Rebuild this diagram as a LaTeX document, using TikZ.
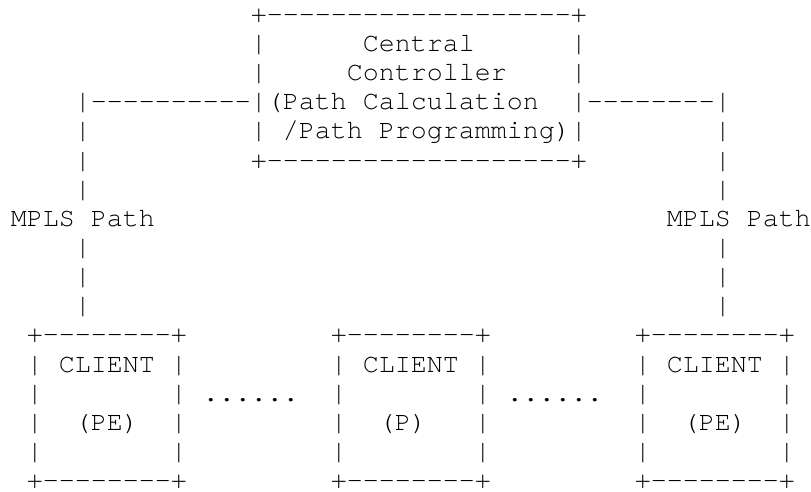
\documentclass[tikz,border=0pt]{standalone}
\usepackage{fontspec}
\setmonofont{TeX Gyre Cursor}
\tikzset{txt/.style={anchor=base west, inner sep=0pt, outer sep=0pt, text=black,
  font=\ttfamily\fontsize{26.67pt}{29pt}\selectfont}}
\begin{document}
\begin{tikzpicture}
\fill[white] (0pt,0pt) rectangle (811pt,-492pt);
\useasboundingbox (0pt,0pt) rectangle (811pt,-492pt);
\begin{scope}[shift={(10.8pt,-22.3pt)}, x=16pt, y=-29.15pt]
% central controller
\node[txt] (c0) at (15,0) {+-------------------+};
\node[txt] (c1l) at (15,1) {|};
\node[txt] (c1t) at (22,1) {Central};
\node[txt] (c1r) at (35,1) {|};
\node[txt] (c2l) at (15,2) {|};
\node[txt] (c2t) at (21,2) {Controller};
\node[txt] (c2r) at (35,2) {|};
\node[txt] (c3a) at (4,3) {|----------|(Path Calculation};
\node[txt] (c3b) at (35,3) {|--------|};
\node[txt] (c4a) at (4,4) {|};
\node[txt] (c4b) at (15,4) {| /Path Programming)|};
\node[txt] (c4c) at (44,4) {|};
\node[txt] (c5a) at (4,5) {|};
\node[txt] (c5b) at (15,5) {+-------------------+};
\node[txt] (c5c) at (44,5) {|};
\node[txt] (c6a) at (4,6) {|};
\node[txt] (c6b) at (44,6) {|};
\node[txt] (m1) at (0,7) {MPLS Path};
\node[txt] (m2) at (41,7) {MPLS Path};
\foreach \r in {8,9,10}{
  \node[txt] (l\r) at (4,\r) {|};
  \node[txt] (r\r) at (44,\r) {|};
}
% client boxes
\foreach \c/\n in {1/a,20/b,39/c}{
  \node[txt] (t\n) at (\c,11) {+--------+};
  \node[txt] (n\n) at (\c,12) {| CLIENT |};
  \node[txt] (p\n) at (\c,13) {|};
  \node[txt] (q\n) at (\c+9,13) {|};
  \node[txt] (s\n) at (\c,14) {|};
  \node[txt] (u\n) at (\c+9,14) {|};
  \node[txt] (v\n) at (\c,15) {|};
  \node[txt] (w\n) at (\c+9,15) {|};
  \node[txt] (b\n) at (\c,16) {+--------+};
}
\node[txt] (d1) at (12,13) {......};
\node[txt] (d2) at (31,13) {......};
\node[txt] (pe1) at (4,14) {(PE)};
\node[txt] (pp) at (23,14) {(P)};
\node[txt] (pe2) at (42,14) {(PE)};
\end{scope}
\end{tikzpicture}
\end{document}
